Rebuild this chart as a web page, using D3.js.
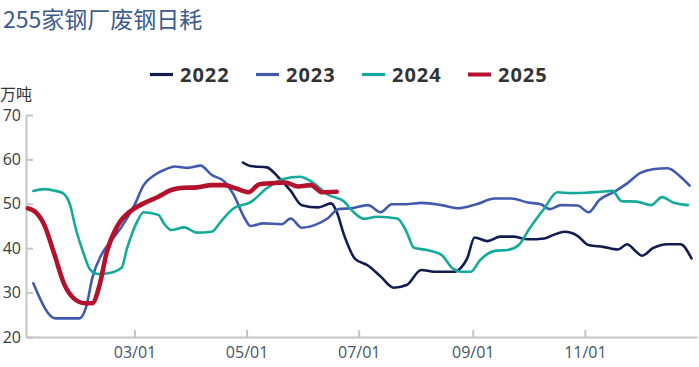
<!DOCTYPE html>
<html><head><meta charset="utf-8">
<script src="https://cdn.jsdelivr.net/npm/d3@7"></script>
<style>
html,body{margin:0;padding:0;background:#fff;}
svg{display:block;}
</style></head>
<body>
<svg id="chart" width="699" height="367"></svg>
<script>
const title = "255家钢厂废钢日耗";
const unitLabel = "万吨";
const seriesNames = ["2022", "2023", "2024", "2025"];
const seriesColors = ["#131c4e", "#4259b0", "#14aa9b", "#b3112c"];
const yTicks = [20, 30, 40, 50, 60, 70];
const xTickDates = ["03-01", "05-01", "07-01", "09-01", "11-01"];

const s2022 = [
 ["04-29",59.3],["05-03",58.5],["05-12",58.2],["05-18",56.1],["05-25",52.9],["05-31",49.7],
 ["06-09",49.2],["06-16",50.1],["06-19",48.2],["06-23",43.0],["06-29",37.6],["07-06",36.1],
 ["07-13",33.6],["07-20",31.1],["07-27",31.7],["08-04",35.1],["08-11",34.7],["08-22",34.7],
 ["08-26",35.8],["08-29",37.7],["09-02",42.4],["09-09",41.6],["09-16",42.6],["09-23",42.6],
 ["10-01",42.0],["10-10",42.2],["10-15",43.0],["10-21",43.7],["10-28",42.8],["11-03",40.7],
 ["11-11",40.3],["11-19",39.7],["11-24",40.9],["11-29",39.2],["12-02",38.3],["12-08",40.0],
 ["12-16",40.9],["12-23",40.9],["12-29",37.7]
];
const s2023 = [
 ["01-05",32.1],["01-17",24.2],["01-30",24.2],["02-03",27.2],["02-06",33.2],["02-11",38.5],
 ["02-16",41.5],["02-22",44.8],["03-01",49.7],["03-06",54.2],["03-12",56.5],["03-17",57.6],
 ["03-23",58.4],["03-30",58.1],["04-06",58.6],["04-12",56.5],["04-19",55.0],["04-24",52.0],
 ["04-30",46.7],["05-03",45.0],["05-10",45.6],["05-20",45.4],["05-25",46.7],["05-31",44.6],
 ["06-07",45.2],["06-14",46.7],["06-20",48.8],["06-27",49.0],["07-06",49.7],["07-13",48.1],
 ["07-19",49.9],["07-27",49.9],["08-04",50.2],["08-15",49.7],["08-24",49.0],["09-03",49.9],
 ["09-13",51.2],["09-22",51.2],["10-01",50.3],["10-08",49.9],["10-13",48.8],["10-19",49.7],
 ["10-28",49.6],["11-03",48.1],["11-09",50.9],["11-17",52.7],["11-24",54.6],["12-01",56.9],
 ["12-08",57.8],["12-16",58.0],["12-23",56.1],["12-28",54.1]
];
const s2024 = [
 ["01-05",52.9],["01-11",53.3],["01-16",53.0],["01-21",52.4],["01-25",49.7],["01-28",44.5],
 ["02-01",39.2],["02-05",35.1],["02-09",34.2],["02-14",34.3],["02-22",35.6],["02-25",40.0],
 ["03-02",45.6],["03-06",48.1],["03-14",47.5],["03-17",45.6],["03-21",44.1],["03-28",44.7],
 ["04-04",43.5],["04-12",43.7],["04-17",46.0],["04-24",49.0],["05-03",50.3],["05-12",53.5],
 ["05-21",55.6],["05-30",56.1],["06-06",54.8],["06-14",52.1],["06-23",50.5],["06-28",48.2],
 ["07-04",46.6],["07-11",47.1],["07-22",46.7],["07-27",43.7],["07-31",40.1],["08-07",39.6],
 ["08-15",38.5],["08-21",35.5],["08-26",34.7],["08-31",34.7],["09-05",37.3],["09-13",39.4],
 ["09-20",39.6],["09-26",40.7],["10-02",44.5],["10-10",49.0],["10-17",52.6],["10-24",52.4],
 ["11-02",52.5],["11-09",52.7],["11-16",52.9],["11-21",50.6],["11-29",50.5],["12-07",49.7],
 ["12-13",51.5],["12-19",50.3],["12-27",49.7]
];
const s2025 = [
 ["01-02",49.0],["01-06",48.2],["01-11",45.2],["01-16",39.2],["01-22",31.7],["01-27",28.7],
 ["02-02",27.6],["02-06",27.6],["02-10",31.7],["02-14",39.2],["02-20",45.2],["02-27",48.4],
 ["03-06",50.1],["03-14",51.6],["03-21",53.1],["03-28",53.6],["04-04",53.7],["04-12",54.2],
 ["04-19",54.2],["04-25",53.5],["05-02",52.6],["05-08",54.4],["05-14",54.6],["05-22",54.8],
 ["05-29",53.9],["06-05",54.2],["06-11",52.6],["06-19",52.7]
];
const seriesData = [s2022, s2023, s2024, s2025];
const lineWidths = [2.6, 2.6, 2.6, 4.6];

const parse = d3.timeParse("%Y-%m-%d");
const toDate = md => parse("2022-" + md);

const svg = d3.select("#chart");
const x = d3.scaleTime().domain([parse("2022-01-01"), parse("2023-01-01")]).range([26, 697]);
const y = d3.scaleLinear().domain([20, 70]).range([337, 115]);

// title
svg.append("text").attr("x", 3).attr("y", 28)
  .attr("font-family", "'Noto Sans CJK SC', 'Open Sans', sans-serif")
  .attr("font-size", 23).attr("fill", "#3d5b8c").text(title);

// unit
svg.append("text").attr("x", 0).attr("y", 100)
  .attr("font-family", "'Noto Sans CJK SC', sans-serif")
  .attr("font-size", 16).attr("fill", "#333").text(unitLabel);

// axes
const yAxis = d3.axisLeft(y).tickValues(yTicks).tickSizeInner(-7).tickSizeOuter(0).tickPadding(5);
const gy = svg.append("g").attr("transform", "translate(26,0)").call(yAxis);
gy.selectAll("text").attr("font-family", "'Open Sans', sans-serif").attr("font-size", 16).attr("fill", "#3a3a3a");

const xAxis = d3.axisBottom(x).tickValues(xTickDates.map(toDate))
  .tickFormat(d3.timeFormat("%m/%d")).tickSizeInner(-7).tickSizeOuter(0).tickPadding(10);
const gx = svg.append("g").attr("transform", "translate(0,337)").call(xAxis);
gx.selectAll("text").attr("font-family", "'Open Sans', sans-serif").attr("font-size", 16).attr("fill", "#45546a");

svg.selectAll(".domain, .tick line").attr("stroke", "#c4c4c4").attr("stroke-width", 2);

// lines
const line = d3.line().x(d => x(toDate(d[0]))).y(d => y(d[1])).curve(d3.curveMonotoneX);
seriesData.forEach((s, i) => {
  svg.append("path").datum(s).attr("d", line)
    .attr("fill", "none").attr("stroke", seriesColors[i])
    .attr("stroke-width", lineWidths[i]).attr("stroke-linejoin", "round").attr("stroke-linecap", "round");
});

// legend
const legendX = [150, 256, 362, 468];
seriesNames.forEach((n, i) => {
  svg.append("line").attr("x1", legendX[i]).attr("x2", legendX[i] + 23)
    .attr("y1", 74.5).attr("y2", 74.5).attr("stroke", seriesColors[i]).attr("stroke-width", i === 3 ? 4 : 3.2);
  svg.append("text").attr("x", legendX[i] + 30).attr("y", 82)
    .attr("font-family", "'Open Sans', sans-serif").attr("font-weight", "bold")
    .attr("font-size", 20).attr("letter-spacing", 1).attr("fill", "#333").text(n);
});
</script>
</body></html>
